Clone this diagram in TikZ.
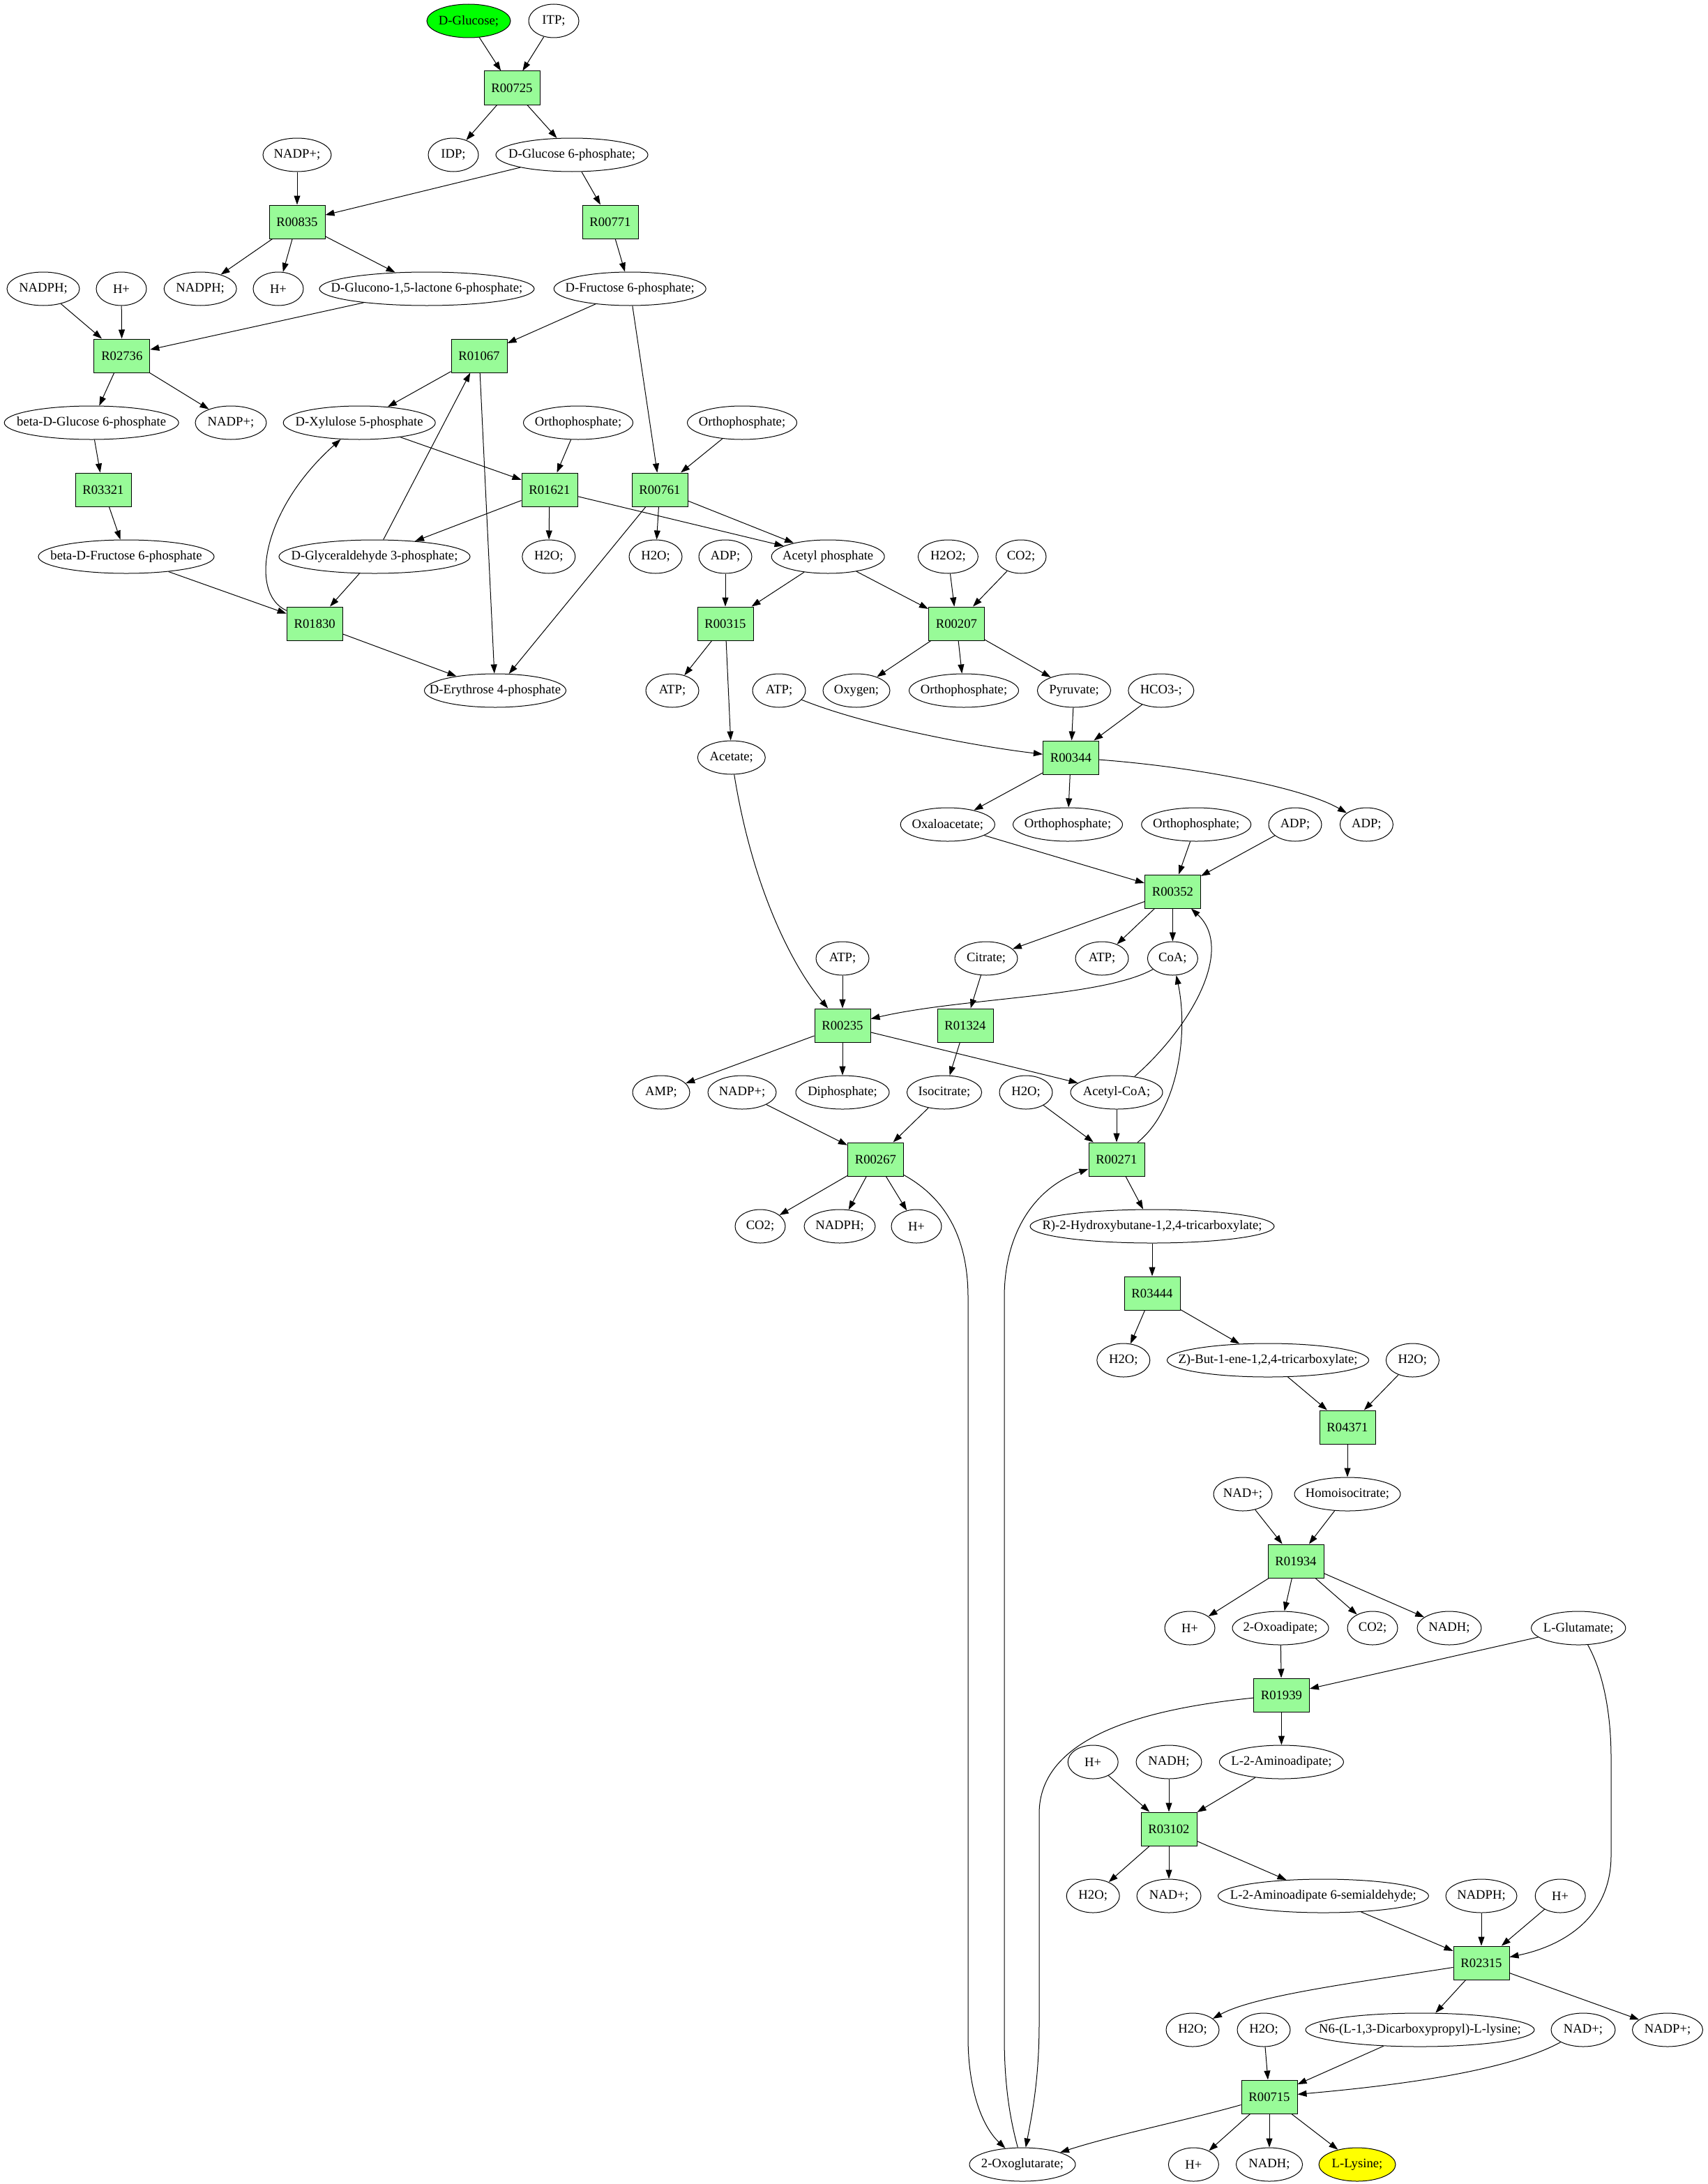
\documentclass[tikz,border=0pt]{standalone}
\usepackage{fontspec}
\setmainfont{Liberation Serif}
\usetikzlibrary{shapes.geometric,arrows.meta}
\definecolor{rxngreen}{HTML}{98FB98}
\definecolor{startgreen}{HTML}{00FF00}
\definecolor{endyellow}{HTML}{FFFF00}
\newcommand{\lbl}[1]{\makebox[0pt]{#1}}
\tikzset{
  met/.style={ellipse, draw, minimum height=24pt, inner sep=0pt},
  rxn/.style={rectangle, draw, fill=rxngreen, minimum width=40pt, minimum height=24pt, inner sep=0pt},
  >={Triangle[length=6.5pt,width=4.5pt]}
}
\begin{document}
\begin{tikzpicture}[x=1pt, y=-1pt, line width=0.5pt, font=\fontsize{9.33}{11}\selectfont]
\useasboundingbox (0,0) rectangle (1224,1565.5);
% metabolites and reactions, row by row
\node[met, minimum width=60pt, fill=startgreen] (glc) at (336,15) {\lbl{D-Glucose;}};
\node[met, minimum width=36pt] (itp) at (397,15) {\lbl{ITP;}};
\node[rxn] (r00725) at (367,63) {R00725};
\node[met, minimum width=49pt] (nadpA) at (213,111) {\lbl{NADP+;}};
\node[met, minimum width=36pt] (idp) at (325,111) {\lbl{IDP;}};
\node[met, minimum width=109pt] (g6p) at (410,111) {\lbl{D-Glucose 6-phosphate;}};
\node[rxn] (r00835) at (213,159) {R00835};
\node[rxn] (r00771) at (437.5,159) {R00771};
\node[met, minimum width=52pt] (nadphA) at (31,207) {\lbl{NADPH;}};
\node[met, minimum width=36pt] (hA) at (87,207) {\lbl{H+}};
\node[met, minimum width=52pt] (nadphB) at (143.6,207) {\lbl{NADPH;}};
\node[met, minimum width=36pt] (hB) at (199.5,207) {\lbl{H+}};
\node[met, minimum width=154pt] (glcnl) at (306,207) {\lbl{D-Glucono-1,5-lactone 6-phosphate;}};
\node[met, minimum width=109pt] (f6p) at (451.6,207) {\lbl{D-Fructose 6-phosphate;}};
\node[rxn] (r02736) at (87.4,255) {R02736};
\node[rxn] (r01067) at (343.5,255) {R01067};
\node[met, minimum width=125pt] (bg6p) at (65.6,303) {\lbl{beta-D-Glucose 6-phosphate}};
\node[met, minimum width=51pt] (nadpB) at (165.5,303) {\lbl{NADP+;}};
\node[met, minimum width=109pt] (xu5p) at (257.6,303) {\lbl{D-Xylulose 5-phosphate}};
\node[met, minimum width=78.5pt] (piA) at (414.5,303) {\lbl{Orthophosphate;}};
\node[met, minimum width=78.5pt] (piB) at (532,303) {\lbl{Orthophosphate;}};
\node[rxn] (r03321) at (74,351) {R03321};
\node[rxn] (r01621) at (394,351) {R01621};
\node[rxn] (r00761) at (473,351) {R00761};
\node[met, minimum width=126pt] (bf6p) at (90.5,399) {\lbl{beta-D-Fructose 6-phosphate}};
\node[met, minimum width=137pt] (gap) at (268.5,399) {\lbl{D-Glyceraldehyde 3-phosphate;}};
\node[met, minimum width=38pt] (h2oA) at (393.4,399) {\lbl{H2O;}};
\node[met, minimum width=38pt] (h2oB) at (470,399) {\lbl{H2O;}};
\node[met, minimum width=38pt] (adpA) at (520,399) {\lbl{ADP;}};
\node[met, minimum width=81pt] (acp) at (593.6,399) {\lbl{Acetyl phosphate}};
\node[met, minimum width=43pt] (h2o2) at (679.7,399) {\lbl{H2O2;}};
\node[met, minimum width=36pt] (co2A) at (732,399) {\lbl{CO2;}};
\node[rxn] (r01830) at (225.6,447) {R01830};
\node[rxn] (r00315) at (520,447) {R00315};
\node[rxn] (r00207) at (685.7,447) {R00207};
\node[met, minimum width=101.5pt] (e4p) at (355,495) {\lbl{D-Erythrose 4-phosphate}};
\node[met, minimum width=38pt] (atpA) at (482,495) {\lbl{ATP;}};
\node[met, minimum width=38pt] (atpB) at (558.5,495) {\lbl{ATP;}};
\node[met, minimum width=48pt] (oxy) at (614,495) {\lbl{Oxygen;}};
\node[met, minimum width=78.5pt] (piC) at (691,495) {\lbl{Orthophosphate;}};
\node[met, minimum width=52.6pt] (pyr) at (770,495) {\lbl{Pyruvate;}};
\node[met, minimum width=47pt] (hco3) at (832.4,495) {\lbl{HCO3-;}};
\node[met, minimum width=48.5pt] (acet) at (524.4,543) {\lbl{Acetate;}};
\node[rxn] (r00344) at (767.7,543) {R00344};
\node[met, minimum width=67.6pt] (oaa) at (679.4,591) {\lbl{Oxaloacetate;}};
\node[met, minimum width=78.5pt] (piD) at (765.5,591) {\lbl{Orthophosphate;}};
\node[met, minimum width=78.5pt] (piE) at (857.6,591) {\lbl{Orthophosphate;}};
\node[met, minimum width=38pt] (adpB) at (928.5,591) {\lbl{ADP;}};
\node[met, minimum width=38pt] (adpC) at (979.7,591) {\lbl{ADP;}};
\node[rxn] (r00352) at (840.7,639) {R00352};
\node[met, minimum width=38pt] (atpC) at (604,687) {\lbl{ATP;}};
\node[met, minimum width=45pt] (cit) at (707,687) {\lbl{Citrate;}};
\node[met, minimum width=38pt] (atpD) at (790,687) {\lbl{ATP;}};
\node[met, minimum width=36pt] (coa) at (840.7,687) {\lbl{CoA;}};
\node[rxn] (r00235) at (604,735) {R00235};
\node[rxn] (r01324) at (692,735) {R01324};
\node[met, minimum width=41pt] (amp) at (474,783) {\lbl{AMP;}};
\node[met, minimum width=49pt] (nadpC) at (532,783) {\lbl{NADP+;}};
\node[met, minimum width=67pt] (ppi) at (604,783) {\lbl{Diphosphate;}};
\node[met, minimum width=53.6pt] (icit) at (677,783) {\lbl{Isocitrate;}};
\node[met, minimum width=38pt] (h2oC) at (735.5,783) {\lbl{H2O;}};
\node[met, minimum width=66pt] (accoa) at (800.5,783) {\lbl{Acetyl-CoA;}};
\node[rxn] (r00267) at (627.7,831) {R00267};
\node[rxn] (r00271) at (800.5,831) {R00271};
\node[met, minimum width=36pt] (co2B) at (545,879) {\lbl{CO2;}};
\node[met, minimum width=51pt] (nadphC) at (602,879) {\lbl{NADPH;}};
\node[met, minimum width=36pt] (hC) at (657,879) {\lbl{H+}};
\node[met, minimum width=175pt] (hbt) at (826,879) {\lbl{R)-2-Hydroxybutane-1,2,4-tricarboxylate;}};
\node[rxn] (r03444) at (826,927) {R03444};
\node[met, minimum width=38pt] (h2oD) at (805.4,975) {\lbl{H2O;}};
\node[met, minimum width=144.6pt] (bte) at (909,975) {\lbl{Z)-But-1-ene-1,2,4-tricarboxylate;}};
\node[met, minimum width=38pt] (h2oE) at (1012.7,975) {\lbl{H2O;}};
\node[rxn] (r04371) at (966,1023) {R04371};
\node[met, minimum width=42pt] (nadA) at (891,1071) {\lbl{NAD+;}};
\node[met, minimum width=76pt] (hicit) at (966,1071) {\lbl{Homoisocitrate;}};
\node[rxn] (r01934) at (929,1119) {R01934};
\node[met, minimum width=36pt] (hD) at (853,1167) {\lbl{H+}};
\node[met, minimum width=69pt] (oxad) at (918,1167) {\lbl{2-Oxoadipate;}};
\node[met, minimum width=36pt] (co2C) at (984,1167) {\lbl{CO2;}};
\node[met, minimum width=46pt] (nadhA) at (1039,1167) {\lbl{NADH;}};
\node[met, minimum width=67.6pt] (glu) at (1131.6,1167) {\lbl{L-Glutamate;}};
\node[rxn] (r01939) at (918.7,1215) {R01939};
\node[met, minimum width=36pt] (hE) at (783.6,1263) {\lbl{H+}};
\node[met, minimum width=47pt] (nadhB) at (838,1263) {\lbl{NADH;}};
\node[met, minimum width=89pt] (aad) at (918.7,1263) {\lbl{L-2-Aminoadipate;}};
\node[rxn] (r03102) at (838,1311) {R03102};
\node[met, minimum width=38pt] (h2oF) at (783.6,1359) {\lbl{H2O;}};
\node[met, minimum width=46pt] (nadB) at (838,1359) {\lbl{NAD+;}};
\node[met, minimum width=151pt] (aasa) at (948.7,1359) {\lbl{L-2-Aminoadipate 6-semialdehyde;}};
\node[met, minimum width=51pt] (nadphD) at (1062,1359) {\lbl{NADPH;}};
\node[met, minimum width=36pt] (hF) at (1118.6,1359) {\lbl{H+}};
\node[rxn] (r02315) at (1062,1407) {R02315};
\node[met, minimum width=38pt] (h2oG) at (855,1455) {\lbl{H2O;}};
\node[met, minimum width=38pt] (h2oH) at (906,1455) {\lbl{H2O;}};
\node[met, minimum width=164pt] (sacc) at (1018,1455) {\lbl{N6-(L-1,3-Dicarboxypropyl)-L-lysine;}};
\node[met, minimum width=46pt] (nadC) at (1135,1455) {\lbl{NAD+;}};
\node[met, minimum width=50.5pt] (nadpD) at (1195.5,1455) {\lbl{NADP+;}};
\node[rxn] (r00715) at (910,1503) {R00715};
\node[met, minimum width=76pt] (oxglu) at (733,1551.5) {\lbl{2-Oxoglutarate;}};
\node[met, minimum width=36pt] (hG) at (855.7,1551.5) {\lbl{H+}};
\node[met, minimum width=47.6pt] (nadhC) at (910,1551.5) {\lbl{NADH;}};
\node[met, minimum width=55pt, fill=endyellow] (lys) at (973,1551.5) {\lbl{L-Lysine;}};
% connectors
\draw[->] (glc) -- (r00725);
\draw[->] (itp) -- (r00725);
\draw[->] (r00725) -- (idp);
\draw[->] (r00725) -- (g6p);
\draw[->] (g6p) -- (r00835);
\draw[->] (nadpA) -- (r00835);
\draw[->] (g6p) -- (r00771);
\draw[->] (r00835) -- (nadphB);
\draw[->] (r00835) -- (hB);
\draw[->] (r00835) -- (glcnl);
\draw[->] (r00771) -- (f6p);
\draw[->] (nadphA) -- (r02736);
\draw[->] (hA) -- (r02736);
\draw[->] (glcnl) -- (r02736);
\draw[->] (f6p) -- (r01067);
\draw[->] (f6p) -- (r00761);
\draw[->] (r02736) -- (bg6p);
\draw[->] (r02736) -- (nadpB);
\draw[->] (r01067) -- (xu5p);
\draw[->] (bg6p) -- (r03321);
\draw[->] (xu5p) -- (r01621);
\draw[->] (piA) -- (r01621);
\draw[->] (piB) -- (r00761);
\draw[->] (r03321) -- (bf6p);
\draw[->] (r01621) -- (gap);
\draw[->] (r01621) -- (h2oA);
\draw[->] (r01621) -- (acp);
\draw[->] (r00761) -- (h2oB);
\draw[->] (r00761) -- (acp);
\draw[->] (r00761) -- (e4p);
\draw[->] (gap) -- (r01067);
\draw[->] (gap) -- (r01830);
\draw[->] (bf6p) -- (r01830);
\draw[->] (r01830) .. controls (178,425) and (188,365) .. (xu5p);
\draw[->] (r01830) -- (e4p);
\draw[->] (r01067) -- (e4p);
\draw[->] (adpA) -- (r00315);
\draw[->] (acp) -- (r00315);
\draw[->] (acp) -- (r00207);
\draw[->] (h2o2) -- (r00207);
\draw[->] (co2A) -- (r00207);
\draw[->] (r00315) -- (atpA);
\draw[->] (r00315) -- (acet);
\draw[->] (r00207) -- (oxy);
\draw[->] (r00207) -- (piC);
\draw[->] (r00207) -- (pyr);
\draw[->] (atpB) .. controls (620,520) and (700,535) .. (r00344);
\draw[->] (pyr) -- (r00344);
\draw[->] (hco3) -- (r00344);
\draw[->] (r00344) -- (oaa);
\draw[->] (r00344) -- (piD);
\draw[->] (r00344) .. controls (860,550) and (935,565) .. (adpC);
\draw[->] (oaa) -- (r00352);
\draw[->] (piE) -- (r00352);
\draw[->] (adpB) -- (r00352);
\draw[->] (r00352) -- (cit);
\draw[->] (r00352) -- (atpD);
\draw[->] (r00352) -- (coa);
\draw[->] (acet) .. controls (540,640) and (570,695) .. (r00235);
\draw[->] (atpC) -- (r00235);
\draw[->] (coa) .. controls (790,715) and (690,715) .. (r00235);
\draw[->] (cit) -- (r01324);
\draw[->] (r00235) -- (amp);
\draw[->] (r00235) -- (ppi);
\draw[->] (r00235) -- (accoa);
\draw[->] (r01324) -- (icit);
\draw[->] (accoa) .. controls (855,735) and (885,680) .. (r00352);
\draw[->] (nadpC) -- (r00267);
\draw[->] (icit) -- (r00267);
\draw[->] (h2oC) -- (r00271);
\draw[->] (accoa) -- (r00271);
\draw[->] (r00271) .. controls (845,795) and (852,740) .. (coa);
\draw[->] (r00267) -- (co2B);
\draw[->] (r00267) -- (nadphC);
\draw[->] (r00267) -- (hC);
\draw[->] (r00267) .. controls (680,860) and (694,890) .. (694,930) -- (694,1460) .. controls (694,1500) and (705,1525) .. (oxglu);
\draw[->] (oxglu) .. controls (723,1515) and (720,1490) .. (720,1460) -- (720,930) .. controls (720,880) and (745,850) .. (r00271);
\draw[->] (r00271) -- (hbt);
\draw[->] (hbt) -- (r03444);
\draw[->] (r03444) -- (h2oD);
\draw[->] (r03444) -- (bte);
\draw[->] (bte) -- (r04371);
\draw[->] (h2oE) -- (r04371);
\draw[->] (r04371) -- (hicit);
\draw[->] (nadA) -- (r01934);
\draw[->] (hicit) -- (r01934);
\draw[->] (r01934) -- (hD);
\draw[->] (r01934) -- (oxad);
\draw[->] (r01934) -- (co2C);
\draw[->] (r01934) -- (nadhA);
\draw[->] (oxad) -- (r01939);
\draw[->] (glu) -- (r01939);
\draw[->] (glu) .. controls (1150,1200) and (1155,1230) .. (1155,1260) -- (1155,1330) .. controls (1155,1375) and (1120,1395) .. (r02315);
\draw[->] (r01939) -- (aad);
\draw[->] (r01939) .. controls (820,1225) and (745,1245) .. (745,1300) -- (745,1450) .. controls (745,1490) and (740,1515) .. (oxglu);
\draw[->] (hE) -- (r03102);
\draw[->] (nadhB) -- (r03102);
\draw[->] (aad) -- (r03102);
\draw[->] (r03102) -- (h2oF);
\draw[->] (r03102) -- (nadB);
\draw[->] (r03102) -- (aasa);
\draw[->] (aasa) -- (r02315);
\draw[->] (nadphD) -- (r02315);
\draw[->] (hF) -- (r02315);
\draw[->] (r02315) .. controls (980,1420) and (900,1430) .. (h2oG);
\draw[->] (r02315) -- (sacc);
\draw[->] (r02315) -- (nadpD);
\draw[->] (h2oH) -- (r00715);
\draw[->] (sacc) -- (r00715);
\draw[->] (nadC) .. controls (1080,1485) and (1000,1495) .. (r00715);
\draw[->] (r00715) .. controls (850,1520) and (800,1530) .. (oxglu);
\draw[->] (r00715) -- (hG);
\draw[->] (r00715) -- (nadhC);
\draw[->] (r00715) -- (lys);
\end{tikzpicture}
\end{document}
